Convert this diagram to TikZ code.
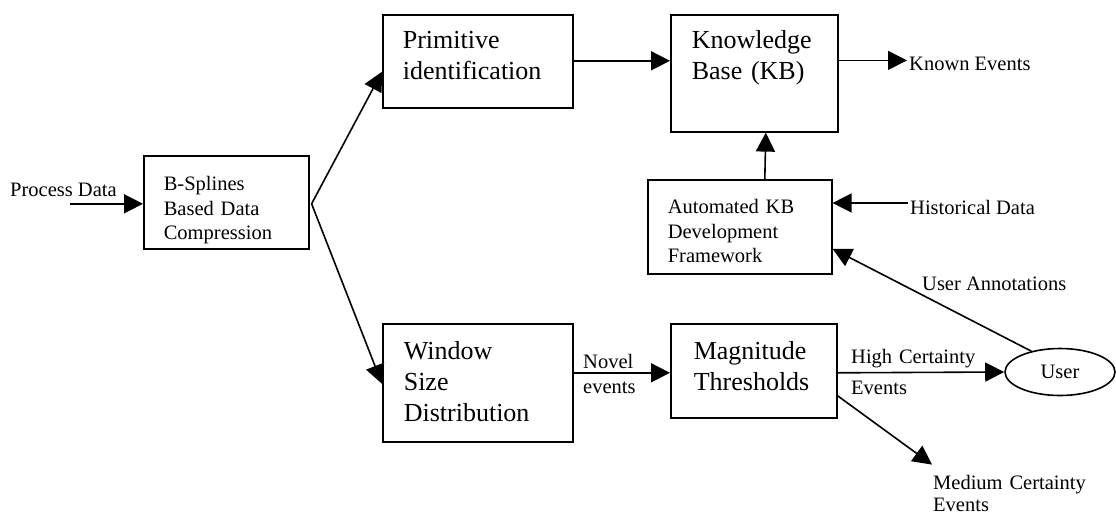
\documentclass[tikz,border=0pt]{standalone}
\usepackage{fontspec}
\setmainfont{Liberation Serif}
\usetikzlibrary{arrows.meta,calc,shapes.geometric}
\newcommand\dgnorm{\fontsize{20.5}{24.5}\selectfont}
\newcommand\dglarge{\fontsize{26}{31}\selectfont}
\tikzset{
  arr/.style={line width=1.6pt,-{Triangle[length=19pt,width=19pt]}},
  boxn/.style={draw,line width=1.6pt,anchor=north west,inner ysep=0pt,align=left,font=\dgnorm},
  boxl/.style={draw,line width=1.6pt,anchor=north west,inner ysep=0pt,align=left,font=\dglarge},
  lbl/.style={anchor=base west,inner sep=0pt,align=left,font=\dgnorm},
}
\begin{document}
\begin{tikzpicture}[x=1pt,y=-1pt]
\useasboundingbox (0,0) rectangle (1116,515);
% boxes
\node[boxn,inner xsep=20pt,text width=125pt,text height=35pt,text depth=58pt] (bs) at (143,155) {B-Splines\\Based Data\\Compression};
\node[boxl,inner xsep=20pt,text width=150pt,text height=34pt,text depth=59pt] (prim) at (382,14) {Primitive\\identification};
\node[boxl,inner xsep=21pt,text width=125pt,text height=34pt,text depth=83pt] (kb) at (670,14) {Knowledge\\Base (KB)};
\node[boxn,inner xsep=20pt,text width=144pt,text height=34pt,text depth=60pt] (auto) at (647,179) {Automated KB\\Development\\Framework};
\node[boxl,inner xsep=21pt,text width=148pt,text height=36pt,text depth=82pt] (win) at (382,323) {Window\\Size\\Distribution};
\node[boxl,inner xsep=23pt,text width=120pt,text height=36pt,text depth=58pt] (mag) at (670,323) {Magnitude\\Thresholds};
\node[draw,ellipse,line width=1.6pt,minimum width=110pt,minimum height=47pt,inner sep=0pt,font=\dgnorm] (user) at (1060,372) {User};
% labels
\node[lbl] (pd) at (10,196) {Process Data};
\node[lbl] (ke) at (909,70) {Known Events};
\node[lbl] (hd) at (910,214) {Historical Data};
\node[lbl] (ua) at (922,290) {User Annotations};
\node[lbl,text width=60pt,font=\fontsize{20.5}{25}\selectfont] (ne) at (583,368) {Novel\\events};
\node[lbl,text width=140pt,font=\fontsize{20.5}{31}\selectfont] (hc) at (851,363) {High Certainty\\Events};
\node[lbl,text width=160pt,font=\fontsize{20.5}{22}\selectfont] (mc) at (933,489) {Medium Certainty\\Events};
% free ends
\coordinate (pdA) at ($(bs.west)+(-73,1.5)$);
\coordinate (keA) at ($(ke.west)+(-2,-3)$);
\coordinate (hdA) at ($(hd.west)+(-2,-4)$);
\coordinate (mcA) at ($(mc.north west)+(-1,-10)$);
% connectors
\draw[arr] (pdA) -- ($(bs.west)+(0,1.5)$);
\draw[arr] ($(bs.east)+(2,1.5)$) -- ($(prim.west)+(0,10.5)$);
\draw[arr] ($(bs.east)+(2,1.5)$) -- ($(win.west)+(0,1)$);
\draw[arr] ($(prim.east)+(0,-0.5)$) -- ($(kb.west)+(0,-12.5)$);
\draw[arr] (keA -| kb.east) -- (keA);
\draw[arr] ($(auto.north)+(25,0)$) -- ($(kb.south)+(11.5,0)$);
\draw[arr] (hdA) -- (hdA -| auto.east);
\draw[arr] (user.144) -- ($(auto.east)+(0,22)$);
\draw[arr] ($(win.east)+(0,-10)$) -- ($(mag.west)+(0,2)$);
\draw[arr] ($(mag.east)+(0,2)$) -- (user.west);
\draw[arr] ($(mag.east)+(0,25)$) -- (mcA);
\end{tikzpicture}
\end{document}
